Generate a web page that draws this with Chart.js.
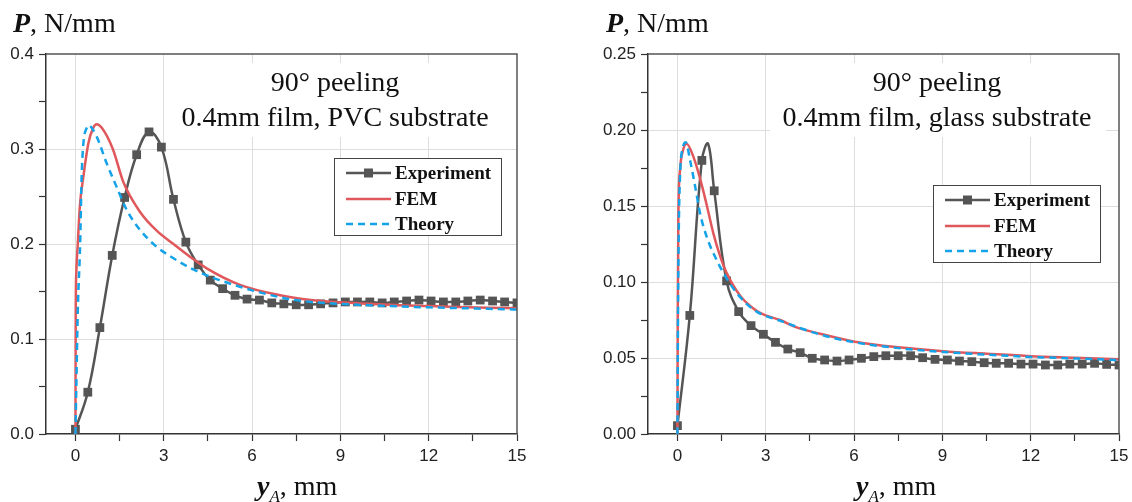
<!DOCTYPE html>
<html>
<head>
<meta charset="utf-8">
<script src="https://cdn.jsdelivr.net/npm/chart.js@4.4.1/dist/chart.umd.min.js"></script>
<style>
  html, body { margin: 0; padding: 0; background: #fff; }
  #wrap { position: relative; width: 1132px; height: 502px; overflow: hidden; }
  canvas { position: absolute; top: 0; }
  .ttl { position: absolute; font-family: 'Liberation Serif', 'Times New Roman', serif; font-size: 28px; line-height: 28px; color: #111; white-space: nowrap; }
  .ttl sub { font-size: 17px; vertical-align: -7px; line-height: 0; }
</style>
</head>
<body>
<div id="wrap">
  <canvas id="chartPvc" width="566" height="502" style="left:0"></canvas>
  <canvas id="chartGlass" width="566" height="502" style="left:566px"></canvas>
  <span class="ttl" style="left:13px;top:9px"><b><i>P</i></b>, N/mm</span>
  <span class="ttl" style="left:606px;top:9px"><b><i>P</i></b>, N/mm</span>
  <span class="ttl" style="left:257px;top:472px"><b><i>y</i></b><sub><i>A</i></sub>, mm</span>
  <span class="ttl" style="left:856px;top:472px"><b><i>y</i></b><sub><i>A</i></sub>, mm</span>
</div>
<script>
// ---- data ----
const legendLabels = ['Experiment', 'FEM', 'Theory'];

const xTickVals = [0, 1.5, 3, 4.5, 6, 7.5, 9, 10.5, 12, 13.5, 15];
const xTickLabels = ['0', '', '3', '', '6', '', '9', '', '12', '', '15'];

const yTickValsPvc = [0, 0.05, 0.1, 0.15, 0.2, 0.25, 0.3, 0.35, 0.4];
const yTickLabelsPvc = ['0.0', '', '0.1', '', '0.2', '', '0.3', '', '0.4'];
const yTickValsGlass = [0, 0.025, 0.05, 0.075, 0.1, 0.125, 0.15, 0.175, 0.2, 0.225, 0.25];
const yTickLabelsGlass = ['0.00', '', '0.05', '', '0.10', '', '0.15', '', '0.20', '', '0.25'];

// experiment markers (same sampling in both tests)
const expX = [0, 0.42, 0.83, 1.25, 1.67, 2.08, 2.5, 2.92, 3.33, 3.75, 4.17, 4.58, 5.0, 5.42, 5.83, 6.25,
  6.67, 7.08, 7.5, 7.92, 8.33, 8.75, 9.17, 9.58, 10.0, 10.42, 10.83, 11.25, 11.67, 12.08, 12.5, 12.92,
  13.33, 13.75, 14.17, 14.58, 15.0];
const expPvc = [0.005, 0.044, 0.112, 0.188, 0.249, 0.294, 0.318, 0.302, 0.247, 0.202, 0.178, 0.162, 0.153,
  0.146, 0.142, 0.141, 0.138, 0.137, 0.136, 0.136, 0.137, 0.138, 0.139, 0.139, 0.139, 0.138, 0.139, 0.140,
  0.141, 0.140, 0.139, 0.139, 0.140, 0.141, 0.140, 0.139, 0.138];
const expGlass = [0.0055, 0.078, 0.180, 0.160, 0.1007, 0.0805, 0.0713, 0.0656, 0.0603, 0.0559, 0.0535,
  0.0498, 0.0487, 0.048, 0.0487, 0.0498, 0.0509, 0.0515, 0.0515, 0.0515, 0.0502, 0.0491, 0.0487, 0.048,
  0.0476, 0.0469, 0.0465, 0.0465, 0.046, 0.046, 0.0454, 0.0454, 0.046, 0.046, 0.0465, 0.0458, 0.0454];
// top of the fitted experiment line (glass) lies between two markers
const glassPeakX = 1.04;
const glassPeakP = 0.191;

// FEM / theory, PVC substrate
const femPvcX = [0, 0.01, 0.03, 0.08, 0.15, 0.27, 0.44, 0.6, 0.72, 0.9, 1.27, 1.63, 2.19, 2.76, 3.33, 3.89,
  4.46, 5.59, 6.95, 8.0, 9.0, 10.0, 11.0, 12.0, 13.0, 14.0, 15.0];
const femPvcP = [0, 0.13, 0.17, 0.20, 0.24, 0.271, 0.306, 0.322, 0.326, 0.322, 0.300, 0.265, 0.234, 0.214,
  0.2, 0.1867, 0.1744, 0.157, 0.146, 0.141, 0.1386, 0.137, 0.1355, 0.1347, 0.1338, 0.133, 0.1323];
const thPvcX = [0, 0.03, 0.08, 0.16, 0.21, 0.27, 0.38, 0.44, 0.72, 1.06, 1.4, 1.74, 2.19, 2.76, 3.33, 3.89,
  4.46, 5.59, 6.95, 8.0, 9.0, 10.0, 11.0, 12.0, 13.0, 14.0, 15.0];
const thPvcP = [0, 0.05, 0.13, 0.20, 0.27, 0.306, 0.322, 0.325, 0.313, 0.285, 0.26, 0.236, 0.215, 0.197,
  0.185, 0.175, 0.167, 0.155, 0.144, 0.139, 0.137, 0.1355, 0.1343, 0.1333, 0.1325, 0.1318, 0.131];

// FEM / theory, glass substrate
const femGlassX = [0, 0.01, 0.03, 0.09, 0.18, 0.31, 0.54, 0.77, 0.99, 1.22, 1.45, 1.67, 2.13, 2.69, 3.0,
  3.49, 4.0, 4.84, 6.03, 7.5, 9.03, 10.5, 12.0, 13.5, 15.0];
const femGlassP = [0, 0.075, 0.141, 0.174, 0.186, 0.191, 0.1825, 0.168, 0.151, 0.132, 0.117, 0.106, 0.091,
  0.081, 0.078, 0.075, 0.0705, 0.066, 0.0607, 0.057, 0.0545, 0.0528, 0.0512, 0.0502, 0.0492];
const thGlassX = [0, 0.02, 0.05, 0.1, 0.18, 0.28, 0.43, 0.6, 0.77, 0.99, 1.33, 1.67, 2.13, 2.69, 3.49,
  4.84, 6.03, 7.5, 9.03, 10.5, 12.0, 13.5, 15.0];
const thGlassP = [0, 0.08, 0.14, 0.175, 0.188, 0.192, 0.180, 0.163, 0.145, 0.130, 0.1145, 0.1024, 0.090,
  0.0805, 0.0745, 0.0655, 0.0603, 0.0565, 0.054, 0.0522, 0.0507, 0.0497, 0.0486];

const notePvc = ['90° peeling', '0.4mm film, PVC substrate'];
const noteGlass = ['90° peeling', '0.4mm film, glass substrate'];

// ---- styling ----
const EXP_COLOR = '#555555';
const FEM_COLOR = '#e0585b';
const TH_COLOR = '#14a3e8';
const SERIF = "'Liberation Serif', 'Times New Roman', serif";
const SANS = "'Liberation Sans', Arial, sans-serif";

function pts(xs, ys) {
  return xs.map((x, i) => ({ x: x, y: ys[i] }));
}

// annotation box, frame and legend drawn inside the plot area
const panelPlugin = {
  id: 'panel',
  beforeDatasetsDraw(chart, args, opts) {
    const ctx = chart.ctx;
    const ca = chart.chartArea;
    ctx.save();
    ctx.fillStyle = '#ffffff';
    ctx.fillRect(ca.left + 122, 63, 336, 74);
    ctx.fillStyle = '#111';
    ctx.font = '28px ' + SERIF;
    ctx.textAlign = 'center';
    ctx.textBaseline = 'middle';
    ctx.fillText(opts.note[0], ca.left + 289, 84);
    ctx.fillText(opts.note[1], ca.left + 289, 119);
    ctx.restore();
  },
  afterDatasetsDraw(chart, args, opts) {
    const ctx = chart.ctx;
    const ca = chart.chartArea;
    ctx.save();
    // top and right frame
    ctx.strokeStyle = '#555';
    ctx.lineWidth = 1.5;
    ctx.beginPath();
    ctx.moveTo(ca.left, ca.top);
    ctx.lineTo(ca.right, ca.top);
    ctx.lineTo(ca.right, ca.bottom);
    ctx.stroke();

    // legend
    const lx = ca.left + opts.legend.dx;
    const ly = opts.legend.y;
    ctx.fillStyle = '#fff';
    ctx.fillRect(lx, ly, 167, 77);
    ctx.strokeStyle = '#444';
    ctx.lineWidth = 1;
    ctx.strokeRect(lx + 0.5, ly + 0.5, 167, 77);
    const rows = [15, 41, 66];
    const colors = [EXP_COLOR, FEM_COLOR, TH_COLOR];
    ctx.font = 'bold 19px ' + SERIF;
    ctx.textBaseline = 'middle';
    ctx.textAlign = 'left';
    legendLabels.forEach((lab, i) => {
      const y = ly + rows[i];
      ctx.strokeStyle = colors[i];
      ctx.lineWidth = 2.5;
      ctx.setLineDash(i === 2 ? [7, 5] : []);
      ctx.beginPath();
      ctx.moveTo(lx + 12, y);
      ctx.lineTo(lx + 57, y);
      ctx.stroke();
      ctx.setLineDash([]);
      if (i === 0) {
        ctx.fillStyle = EXP_COLOR;
        ctx.fillRect(lx + 34.5 - 4.5, y - 4.5, 9, 9);
      }
      ctx.fillStyle = '#111';
      ctx.fillText(lab, lx + 61, y + 1);
    });
    ctx.restore();
  }
};

// keep the plot box where the layout padding puts it
function noLabelPadding(s) {
  s.paddingLeft = 0;
  s.paddingRight = 0;
  s.paddingTop = 0;
  s.paddingBottom = 0;
}

function makeChart(id, cfg) {
  const expData = pts(expX, cfg.exp);
  if (cfg.peak) {
    expData.push({ x: cfg.peak[0], y: cfg.peak[1], noMark: true });
    expData.sort((a, b) => a.x - b.x);
  }
  new Chart(document.getElementById(id), {
    type: 'scatter',
    data: {
      datasets: [
        {
          label: 'Theory',
          data: pts(cfg.thX, cfg.thP),
          showLine: true,
          borderColor: TH_COLOR,
          borderWidth: 2.5,
          borderDash: [7, 5],
          pointRadius: 0,
          cubicInterpolationMode: 'monotone'
        },
        {
          label: 'FEM',
          data: pts(cfg.femX, cfg.femP),
          showLine: true,
          borderColor: FEM_COLOR,
          borderWidth: 2.5,
          pointRadius: 0,
          cubicInterpolationMode: 'monotone'
        },
        {
          label: 'Experiment',
          data: expData,
          showLine: true,
          borderColor: EXP_COLOR,
          backgroundColor: EXP_COLOR,
          borderWidth: 2.5,
          tension: 0.4,
          pointStyle: 'rect',
          pointRadius: (c) => (c.raw && c.raw.noMark ? 0 : 6.2),
          pointBorderWidth: 0
        }
      ]
    },
    options: {
      responsive: false,
      animation: false,
      layout: { padding: { top: 54, right: cfg.padRight, left: 0, bottom: 0 } },
      plugins: {
        legend: { display: false },
        tooltip: { enabled: false },
        panel: { note: cfg.note, legend: cfg.legend }
      },
      scales: {
        x: {
          type: 'linear',
          min: -1,
          max: 15,
          afterBuildTicks: (s) => { s.ticks = xTickVals.map(v => ({ value: v })); },
          afterFit: (s) => { s.height = 68; noLabelPadding(s); },
          ticks: {
            autoSkip: false,
            maxRotation: 0,
            padding: 5,
            color: '#222',
            font: { family: SANS, size: 17 },
            callback: (v, i) => xTickLabels[i]
          },
          grid: {
            color: (c) => (xTickLabels[c.index] && c.index < xTickVals.length - 1 ? '#dddddd' : 'rgba(0,0,0,0)'),
            lineWidth: 1,
            tickLength: 7,
            tickWidth: 1.2,
            tickColor: '#333'
          },
          border: { color: '#333', width: 1.5 }
        },
        y: {
          type: 'linear',
          min: 0,
          max: cfg.yMax,
          afterBuildTicks: (s) => { s.ticks = cfg.yVals.map(v => ({ value: v })); },
          afterFit: (s) => { s.width = cfg.yWidth; noLabelPadding(s); },
          ticks: {
            autoSkip: false,
            padding: 5,
            color: '#222',
            font: { family: SANS, size: 17 },
            callback: (v, i) => cfg.yLabels[i]
          },
          grid: {
            color: (c) => (cfg.yLabels[c.index] && c.index > 0 && c.index < cfg.yVals.length - 1 ? '#dddddd' : 'rgba(0,0,0,0)'),
            lineWidth: 1,
            tickLength: 7,
            tickWidth: 1.2,
            tickColor: '#333'
          },
          border: { color: '#333', width: 1.5 }
        }
      }
    },
    plugins: [panelPlugin]
  });
}

makeChart('chartPvc', {
  exp: expPvc,
  femX: femPvcX, femP: femPvcP,
  thX: thPvcX, thP: thPvcP,
  yMax: 0.4, yVals: yTickValsPvc, yLabels: yTickLabelsPvc,
  yWidth: 46, padRight: 49,
  note: notePvc,
  legend: { dx: 288, y: 158 }
});

makeChart('chartGlass', {
  exp: expGlass,
  peak: [glassPeakX, glassPeakP],
  femX: femGlassX, femP: femGlassP,
  thX: thGlassX, thP: thGlassP,
  yMax: 0.25, yVals: yTickValsGlass, yLabels: yTickLabelsGlass,
  yWidth: 82, padRight: 13,
  note: noteGlass,
  legend: { dx: 285, y: 185 }
});
</script>
</body>
</html>
